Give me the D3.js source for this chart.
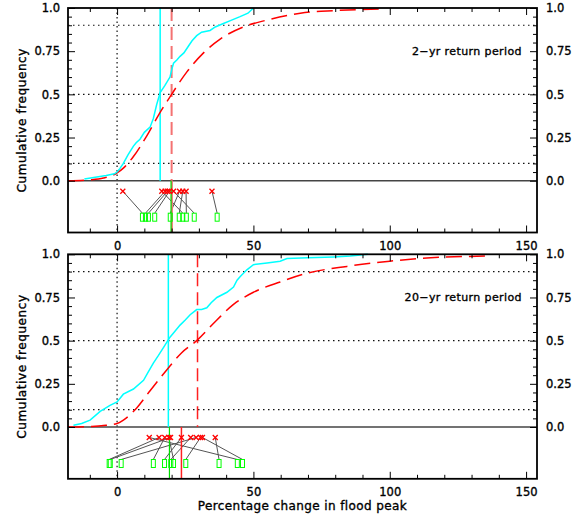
<!DOCTYPE html>
<html>
<head>
<meta charset="utf-8">
<script src="https://cdn.jsdelivr.net/npm/d3@7"></script>
<style>
  html, body { margin: 0; padding: 0; background: #fff; }
  svg { display: block; }
  text { font-family: 'DejaVu Sans', sans-serif; fill: #000; stroke: #000; stroke-width: 0.35px; }
</style>
</head>
<body>
<div id="chart"></div>
<script>
'use strict';

// ---- data ----
const xTicksMajor = [0, 50, 100, 150];
const xTickLabels = ['0', '50', '100', '150'];
const yTicksMajor = [0, 0.25, 0.5, 0.75, 1];
const yTickLabels = ['0.0', '0.25', '0.5', '0.75', '1.0'];
const gridLevels = [0.1, 0.5, 0.9];
const panelTitles = ['2\u2212yr return period', '20\u2212yr return period'];

// 2-yr panel: empirical (cyan) and fitted (red dashed) cumulative curves
const cyan2X = [-12, -8, -4, -1, 0, 1, 2.3, 4, 6, 7, 8.4, 10, 12.1, 13.3, 14.5, 15.8, 17.5, 19.4, 20, 20.7, 22, 23.1, 24.5, 26.2, 27.5, 29.2, 31, 34.1, 36, 39, 42, 45.1, 48, 50];
const cyan2Y = [0.01, 0.02, 0.03, 0.04, 0.05, 0.07, 0.1, 0.15, 0.2, 0.22, 0.24, 0.28, 0.31, 0.36, 0.44, 0.51, 0.55, 0.6, 0.64, 0.68, 0.7, 0.72, 0.74, 0.78, 0.81, 0.84, 0.86, 0.87, 0.89, 0.91, 0.93, 0.95, 0.97, 1.0];
const red2X = [-18, -10, -5, 0, 2.3, 6, 10.9, 15.2, 20, 25.6, 31.7, 37.8, 46.3, 54.9, 67.2, 80, 97];
const red2Y = [0, 0.005, 0.015, 0.045, 0.073, 0.14, 0.26, 0.38, 0.5, 0.63, 0.74, 0.82, 0.89, 0.93, 0.97, 0.985, 0.995];
// vertical markers: cyan median, red dashed median, green and red means below zero
const vlines2 = [15.8, 20.0, 19.8, 20.1];
// crosses (red) and boxes (green), paired by index
const cross2 = [2.1, 16.4, 17.6, 18.5, 19.2, 20.7, 22.9, 24.1, 25.3, 34.8];
const box2 = [9.3, 24.1, 10.4, 11.5, 13.8, 28.3, 19.5, 22.8, 25.4, 36.7];

// 20-yr panel
const cyan20X = [-16, -13, -9.9, -6.2, -2.6, 0, 2.3, 6, 9.7, 11.5, 13.3, 15, 17, 19.4, 21, 23.1, 25, 26.8, 29.2, 31, 32.9, 34.5, 36.6, 40.3, 42.7, 44, 45.1, 47.6, 50, 55, 59.8, 62.3, 70, 79.4, 85.5, 92];
const cyan20Y = [0.01, 0.02, 0.04, 0.09, 0.125, 0.145, 0.19, 0.22, 0.27, 0.32, 0.37, 0.41, 0.46, 0.52, 0.55, 0.59, 0.62, 0.65, 0.68, 0.68, 0.69, 0.72, 0.75, 0.78, 0.81, 0.85, 0.87, 0.91, 0.94, 0.95, 0.96, 0.975, 0.98, 0.985, 0.99, 1.0];
const red20X = [-18, -10, -5, 0, 2.3, 7.2, 12.1, 18.2, 23.7, 29.2, 36.6, 42.7, 50, 59.8, 69.6, 84.3, 100, 115, 137];
const red20Y = [0, 0.003, 0.008, 0.02, 0.04, 0.11, 0.21, 0.33, 0.43, 0.5, 0.62, 0.71, 0.78, 0.84, 0.89, 0.93, 0.96, 0.98, 0.99];
const vlines20 = [18.8, 29.5, 19.2, 23.6];
const cross20 = [11.8, 15.4, 17.5, 19.6, 19.0, 23.6, 27.0, 29.0, 30.6, 31.3, 36.0];
const box20 = [44.1, -2.9, 13.3, -2.5, 20.7, 17.4, 19.7, 1.5, 25.2, 46.0, 37.4];

// ---- layout ----
const W = 574, H = 515;
const left = 68, right = 537;
const panelTops = [8, 254.3];
const panelH = 224.5;

const panels = [
  { top: panelTops[0], title: panelTitles[0], cx: cyan2X, cy: cyan2Y, rx: red2X, ry: red2Y,
    v: vlines2, cross: cross2, box: box2, dashColor: '#f47272', dashWidth: 2 },
  { top: panelTops[1], title: panelTitles[1], cx: cyan20X, cy: cyan20Y, rx: red20X, ry: red20Y,
    v: vlines20, cross: cross20, box: box20, dashColor: '#ff2020', dashWidth: 1.5 }
];

const svg = d3.select('#chart').append('svg')
  .attr('width', W)
  .attr('height', H);

const x = d3.scaleLinear().domain([-18, 154]).range([left, right]);
const xMinor = d3.range(-10, 151, 10).filter(v => v % 50 !== 0);
const yMinor = d3.range(0, 1.001, 0.05).map(v => +v.toFixed(2)).filter(v => !yTicksMajor.includes(v));

panels.forEach((p, i) => {
  const y = d3.scaleLinear().domain([-0.3, 1.0]).range([p.top + panelH, p.top]);
  const g = svg.append('g');
  const bottom = p.top + panelH;

  // dotted reference lines
  g.selectAll('.grid')
    .data(gridLevels)
    .join('line')
    .attr('x1', left).attr('x2', right)
    .attr('y1', d => y(d)).attr('y2', d => y(d))
    .attr('stroke', '#111')
    .attr('stroke-width', 1.2)
    .attr('stroke-dasharray', '1.5,3.5');

  g.append('line')
    .attr('x1', x(0)).attr('x2', x(0))
    .attr('y1', p.top).attr('y2', bottom)
    .attr('stroke', '#111')
    .attr('stroke-width', 1.2)
    .attr('stroke-dasharray', '1.5,3');

  // zero line
  g.append('line')
    .attr('x1', left).attr('x2', right)
    .attr('y1', y(0)).attr('y2', y(0))
    .attr('stroke', '#444')
    .attr('stroke-width', 1.5);

  // vertical markers above zero
  g.append('line')
    .attr('x1', x(p.v[0])).attr('x2', x(p.v[0]))
    .attr('y1', y(0)).attr('y2', y(1))
    .attr('stroke', '#00ffff')
    .attr('stroke-width', 1.5);

  g.append('line')
    .attr('x1', x(p.v[1])).attr('x2', x(p.v[1]))
    .attr('y1', y(1)).attr('y2', y(0))
    .attr('stroke', p.dashColor)
    .attr('stroke-width', p.dashWidth)
    .attr('stroke-dasharray', '13,6');

  // curves
  const line = d3.line()
    .x(d => x(d[0]))
    .y(d => y(d[1]));

  g.append('path')
    .datum(d3.zip(p.rx, p.ry))
    .attr('d', line.curve(d3.curveMonotoneX))
    .attr('fill', 'none')
    .attr('stroke', '#ff0000')
    .attr('stroke-width', 1.5)
    .attr('stroke-dasharray', '16,7');

  g.append('path')
    .datum(d3.zip(p.cx, p.cy))
    .attr('d', line.curve(d3.curveLinear))
    .attr('fill', 'none')
    .attr('stroke', '#00ffff')
    .attr('stroke-width', 1.5);

  // below-zero strip: connectors, means, crosses, boxes
  const yCrossPx = y(0) + 10.5;
  const yBoxPx = y(0) + 36.5;

  g.selectAll('.link')
    .data(d3.zip(p.cross, p.box))
    .join('line')
    .attr('x1', d => x(d[0])).attr('y1', yCrossPx)
    .attr('x2', d => x(d[1])).attr('y2', yBoxPx - 4)
    .attr('stroke', '#555')
    .attr('stroke-width', 1);

  g.append('line')
    .attr('x1', x(p.v[3])).attr('x2', x(p.v[3]))
    .attr('y1', y(0)).attr('y2', bottom)
    .attr('stroke', i === 0 ? '#f47272' : '#ff2020')
    .attr('stroke-width', i === 0 ? 2 : 1.5);

  g.append('line')
    .attr('x1', x(p.v[2])).attr('x2', x(p.v[2]))
    .attr('y1', y(0)).attr('y2', bottom)
    .attr('stroke', '#00dd00')
    .attr('stroke-width', 1.2);

  g.selectAll('.cross')
    .data(p.cross)
    .join('path')
    .attr('d', d => {
      const cx = x(d), s = 2.5;
      return 'M' + (cx - s) + ',' + (yCrossPx - s) + 'L' + (cx + s) + ',' + (yCrossPx + s) +
        'M' + (cx - s) + ',' + (yCrossPx + s) + 'L' + (cx + s) + ',' + (yCrossPx - s);
    })
    .attr('stroke', '#ff0000')
    .attr('stroke-width', 1.3)
    .attr('fill', 'none');

  g.selectAll('.box')
    .data(p.box)
    .join('rect')
    .attr('x', d => x(d) - 2)
    .attr('y', yBoxPx - 4)
    .attr('width', 4)
    .attr('height', 8)
    .attr('fill', 'none')
    .attr('stroke', '#00ff00')
    .attr('stroke-width', 1);

  // axes: ticks point inward
  const yTicks = d3.scaleLinear().domain([-0.3, 1.0]).range([bottom, p.top]);

  g.append('g')
    .attr('transform', 'translate(0,' + bottom + ')')
    .call(d3.axisBottom(x).tickValues(xMinor).tickSize(-4).tickFormat(''));
  g.append('g')
    .attr('transform', 'translate(0,' + bottom + ')')
    .call(d3.axisBottom(x).tickValues(xTicksMajor).tickSize(-7).tickPadding(9)
      .tickFormat((d, k) => xTickLabels[k]));
  g.append('g')
    .attr('transform', 'translate(0,' + p.top + ')')
    .call(d3.axisTop(x).tickValues(xMinor).tickSize(-4).tickFormat(''));
  g.append('g')
    .attr('transform', 'translate(0,' + p.top + ')')
    .call(d3.axisTop(x).tickValues(xTicksMajor).tickSize(-7).tickFormat(''));

  g.append('g')
    .attr('transform', 'translate(' + left + ',0)')
    .call(d3.axisLeft(yTicks).tickValues(yMinor).tickSize(-4).tickFormat(''));
  g.append('g')
    .attr('transform', 'translate(' + left + ',0)')
    .call(d3.axisLeft(yTicks).tickValues(yTicksMajor).tickSize(-7).tickPadding(8)
      .tickFormat((d, k) => yTickLabels[k]));
  g.append('g')
    .attr('transform', 'translate(' + right + ',0)')
    .call(d3.axisRight(yTicks).tickValues(yMinor).tickSize(-4).tickFormat(''));
  g.append('g')
    .attr('transform', 'translate(' + right + ',0)')
    .call(d3.axisRight(yTicks).tickValues(yTicksMajor).tickSize(-7).tickPadding(9)
      .tickFormat((d, k) => yTickLabels[k]));

  g.selectAll('.domain').remove();
  g.selectAll('.tick line').attr('stroke', '#000').attr('stroke-width', 1);
  g.selectAll('.tick text')
    .attr('font-family', "'DejaVu Sans', sans-serif")
    .attr('font-size', '11.5px')
    .attr('fill', '#000');

  // frame
  g.append('rect')
    .attr('x', left).attr('y', p.top)
    .attr('width', right - left).attr('height', panelH)
    .attr('fill', 'none')
    .attr('stroke', '#000')
    .attr('stroke-width', 1.8);

  // panel annotation
  g.append('text')
    .attr('x', 522)
    .attr('y', y(0.75) + 4)
    .attr('text-anchor', 'end')
    .attr('font-size', '11px')
    .style('letter-spacing', '0.4px')
    .text(p.title);

  // y-axis title
  g.append('text')
    .attr('transform', 'translate(26,' + (p.top + panelH / 2) + ') rotate(-90)')
    .attr('text-anchor', 'middle')
    .attr('font-size', '12px')
    .style('letter-spacing', '0.6px')
    .text('Cumulative frequency');
});

// x-axis title
svg.append('text')
  .attr('x', (left + right) / 2)
  .attr('y', 510)
  .attr('text-anchor', 'middle')
  .attr('font-size', '12px')
  .style('letter-spacing', '0.4px')
  .text('Percentage change in flood peak');
</script>
</body>
</html>
